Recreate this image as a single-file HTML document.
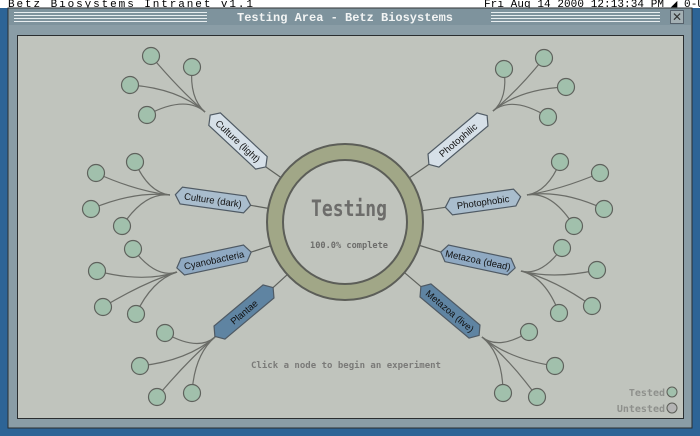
<!DOCTYPE html>
<html><head><meta charset="utf-8"><style>
html,body{margin:0;padding:0;width:700px;height:436px;overflow:hidden;background:#2d6496;}
svg{display:block}
</style></head><body>
<svg id="s" width="700" height="436" xmlns="http://www.w3.org/2000/svg" font-family="Liberation Sans, sans-serif">
<rect x="0" y="0" width="700" height="436" fill="#2d6496"/>
<rect x="0" y="0" width="700" height="8" fill="#ffffff"/>
<text x="8" y="7" font-family="Liberation Mono, monospace" font-size="11" fill="#000" textLength="245">Betz Biosystems   Intranet v1.1</text>
<text x="484" y="7" font-family="Liberation Mono, monospace" font-size="11" fill="#000" textLength="220">Fri Aug 14 2000 12:13:34 PM ◢ 0-U</text>
<rect x="8" y="8" width="684" height="420" fill="#8a9da6" stroke="#2a2e30" stroke-width="1"/>
<rect x="9" y="9" width="682" height="16" fill="#7e939d"/>
<g stroke="#e8eef0" stroke-width="1">
<line x1="14" y1="12.5" x2="207" y2="12.5"/><line x1="14" y1="15.5" x2="207" y2="15.5"/><line x1="14" y1="18.5" x2="207" y2="18.5"/><line x1="14" y1="21.5" x2="207" y2="21.5"/>
<line x1="491" y1="12.5" x2="660" y2="12.5"/><line x1="491" y1="15.5" x2="660" y2="15.5"/><line x1="491" y1="18.5" x2="660" y2="18.5"/><line x1="491" y1="21.5" x2="660" y2="21.5"/>
</g>
<text x="237" y="21" font-family="Liberation Mono, monospace" font-weight="bold" font-size="12" fill="#f2f4f4" textLength="216" lengthAdjust="spacingAndGlyphs">Testing Area - Betz Biosystems</text>
<rect x="670.5" y="10.5" width="13" height="13" fill="#a4b0b4" stroke="#55606a"/>
<text x="677" y="21" text-anchor="middle" font-size="12" fill="#333">✕</text>
<rect x="17.5" y="35.5" width="666" height="383" fill="#c0c4bd" stroke="#2a2e30"/>
<g id="g"></g>
<circle cx="345" cy="222" r="70" fill="none" stroke="#5c5e58" stroke-width="18"/>
<circle cx="345" cy="222" r="70" fill="none" stroke="#a1a787" stroke-width="14"/>
<text x="349" y="216" text-anchor="middle" font-family="DejaVu Sans Mono, monospace" font-weight="bold" font-size="22" fill="#6d6d6b" textLength="76" lengthAdjust="spacingAndGlyphs">Testing</text>
<text x="349" y="248" text-anchor="middle" font-family="DejaVu Sans Mono, monospace" font-weight="bold" font-size="9" fill="#6d6d6b" textLength="78" lengthAdjust="spacingAndGlyphs">100.0% complete</text>
<text x="346" y="368" text-anchor="middle" font-family="DejaVu Sans Mono, monospace" font-weight="bold" font-size="9" fill="#7a7a78" textLength="190" lengthAdjust="spacingAndGlyphs">Click a node to begin an experiment</text>
<text x="665" y="396" text-anchor="end" font-family="DejaVu Sans Mono, monospace" font-weight="bold" font-size="10" fill="#8e908c">Tested</text>
<circle cx="672" cy="392" r="5" fill="#a1c0ac" stroke="#5c5e58"/>
<text x="665" y="412" text-anchor="end" font-family="DejaVu Sans Mono, monospace" font-weight="bold" font-size="10" fill="#8e908c">Untested</text>
<circle cx="672" cy="408" r="5" fill="#b4b4b4" stroke="#5c5e58"/>
</svg>
<script>
var NS="http://www.w3.org/2000/svg",g=document.getElementById('g');
function el(t,a,p){var e=document.createElementNS(NS,t);for(var k in a)e.setAttribute(k,a[k]);(p||g).appendChild(e);return e;}
var C=[345,222],R=78;
var L=[
["Culture (light)",238,141,43,"#d6e0e8",[205,112],[[151,56],[192,67],[130,85],[147,115]]],
["Culture (dark)",213,200,8,"#a9bdcd",[170,195],[[135,162],[96,173],[91,209],[122,226]]],
["Cyanobacteria",214,260,-12,"#8fa9c2",[177,272],[[133,249],[97,271],[103,307],[136,314]]],
["Plantae",244,312,-40,"#5f84a2",[215,337],[[165,333],[140,366],[157,397],[192,393]]],
["Photophilic",458,140,-40,"#d6e0e8",[493,111],[[504,69],[544,58],[566,87],[548,117]]],
["Photophobic",483,202,-8,"#a9bdcd",[527,195],[[560,162],[600,173],[604,209],[574,226]]],
["Metazoa (dead)",478,260,12,"#8fa9c2",[521,271],[[562,248],[597,270],[592,306],[559,313]]],
["Metazoa (live)",450,311,40,"#5f84a2",[482,337],[[529,332],[555,366],[503,393],[537,397]]]
];
L.forEach(function(l){
 var cx=l[1],cy=l[2],a=l[3]*Math.PI/180;
 var dx=Math.cos(a),dy=Math.sin(a);
 var e1=[cx-dx*38,cy-dy*38],e2=[cx+dx*38,cy+dy*38];
 var near=(Math.hypot(e1[0]-C[0],e1[1]-C[1])<Math.hypot(e2[0]-C[0],e2[1]-C[1]))?e1:e2;
 var vx=near[0]-C[0],vy=near[1]-C[1],vl=Math.hypot(vx,vy);
 var r=[C[0]+vx/vl*R,C[1]+vy/vl*R];
 el('line',{x1:near[0],y1:near[1],x2:r[0],y2:r[1],stroke:'#5f625d','stroke-width':1.2});
});
L.forEach(function(l){
 var cx=l[1],cy=l[2],hub=l[5];
 var ux=hub[0]-cx,uy=hub[1]-cy,ul=Math.hypot(ux,uy);ux/=ul;uy/=ul;
 l[6].forEach(function(p){
  var d=Math.hypot(p[0]-hub[0],p[1]-hub[1]);
  var c1=[hub[0]+ux*d*0.45,hub[1]+uy*d*0.45];
  el('path',{d:'M'+hub[0]+' '+hub[1]+' Q'+c1[0]+' '+c1[1]+' '+p[0]+' '+p[1],fill:'none',stroke:'#6a6c67','stroke-width':1.2});
 });
 l[6].forEach(function(p){el('circle',{cx:p[0],cy:p[1],r:8.5,fill:'#a1c0ac',stroke:'#5f625d','stroke-width':1.2});});
 var t=el('g',{transform:'translate('+cx+' '+cy+') rotate('+l[3]+')'});
 el('polygon',{points:'-38,0 -32,-8.5 32,-8.5 38,0 32,8.5 -32,8.5',fill:l[4],stroke:'#4f5a64','stroke-width':1.2},t);
 var tx=el('text',{x:0,y:3.5,'text-anchor':'middle','font-size':9.5,fill:'#111'},t);tx.textContent=l[0];
});
</script>
</body></html>
